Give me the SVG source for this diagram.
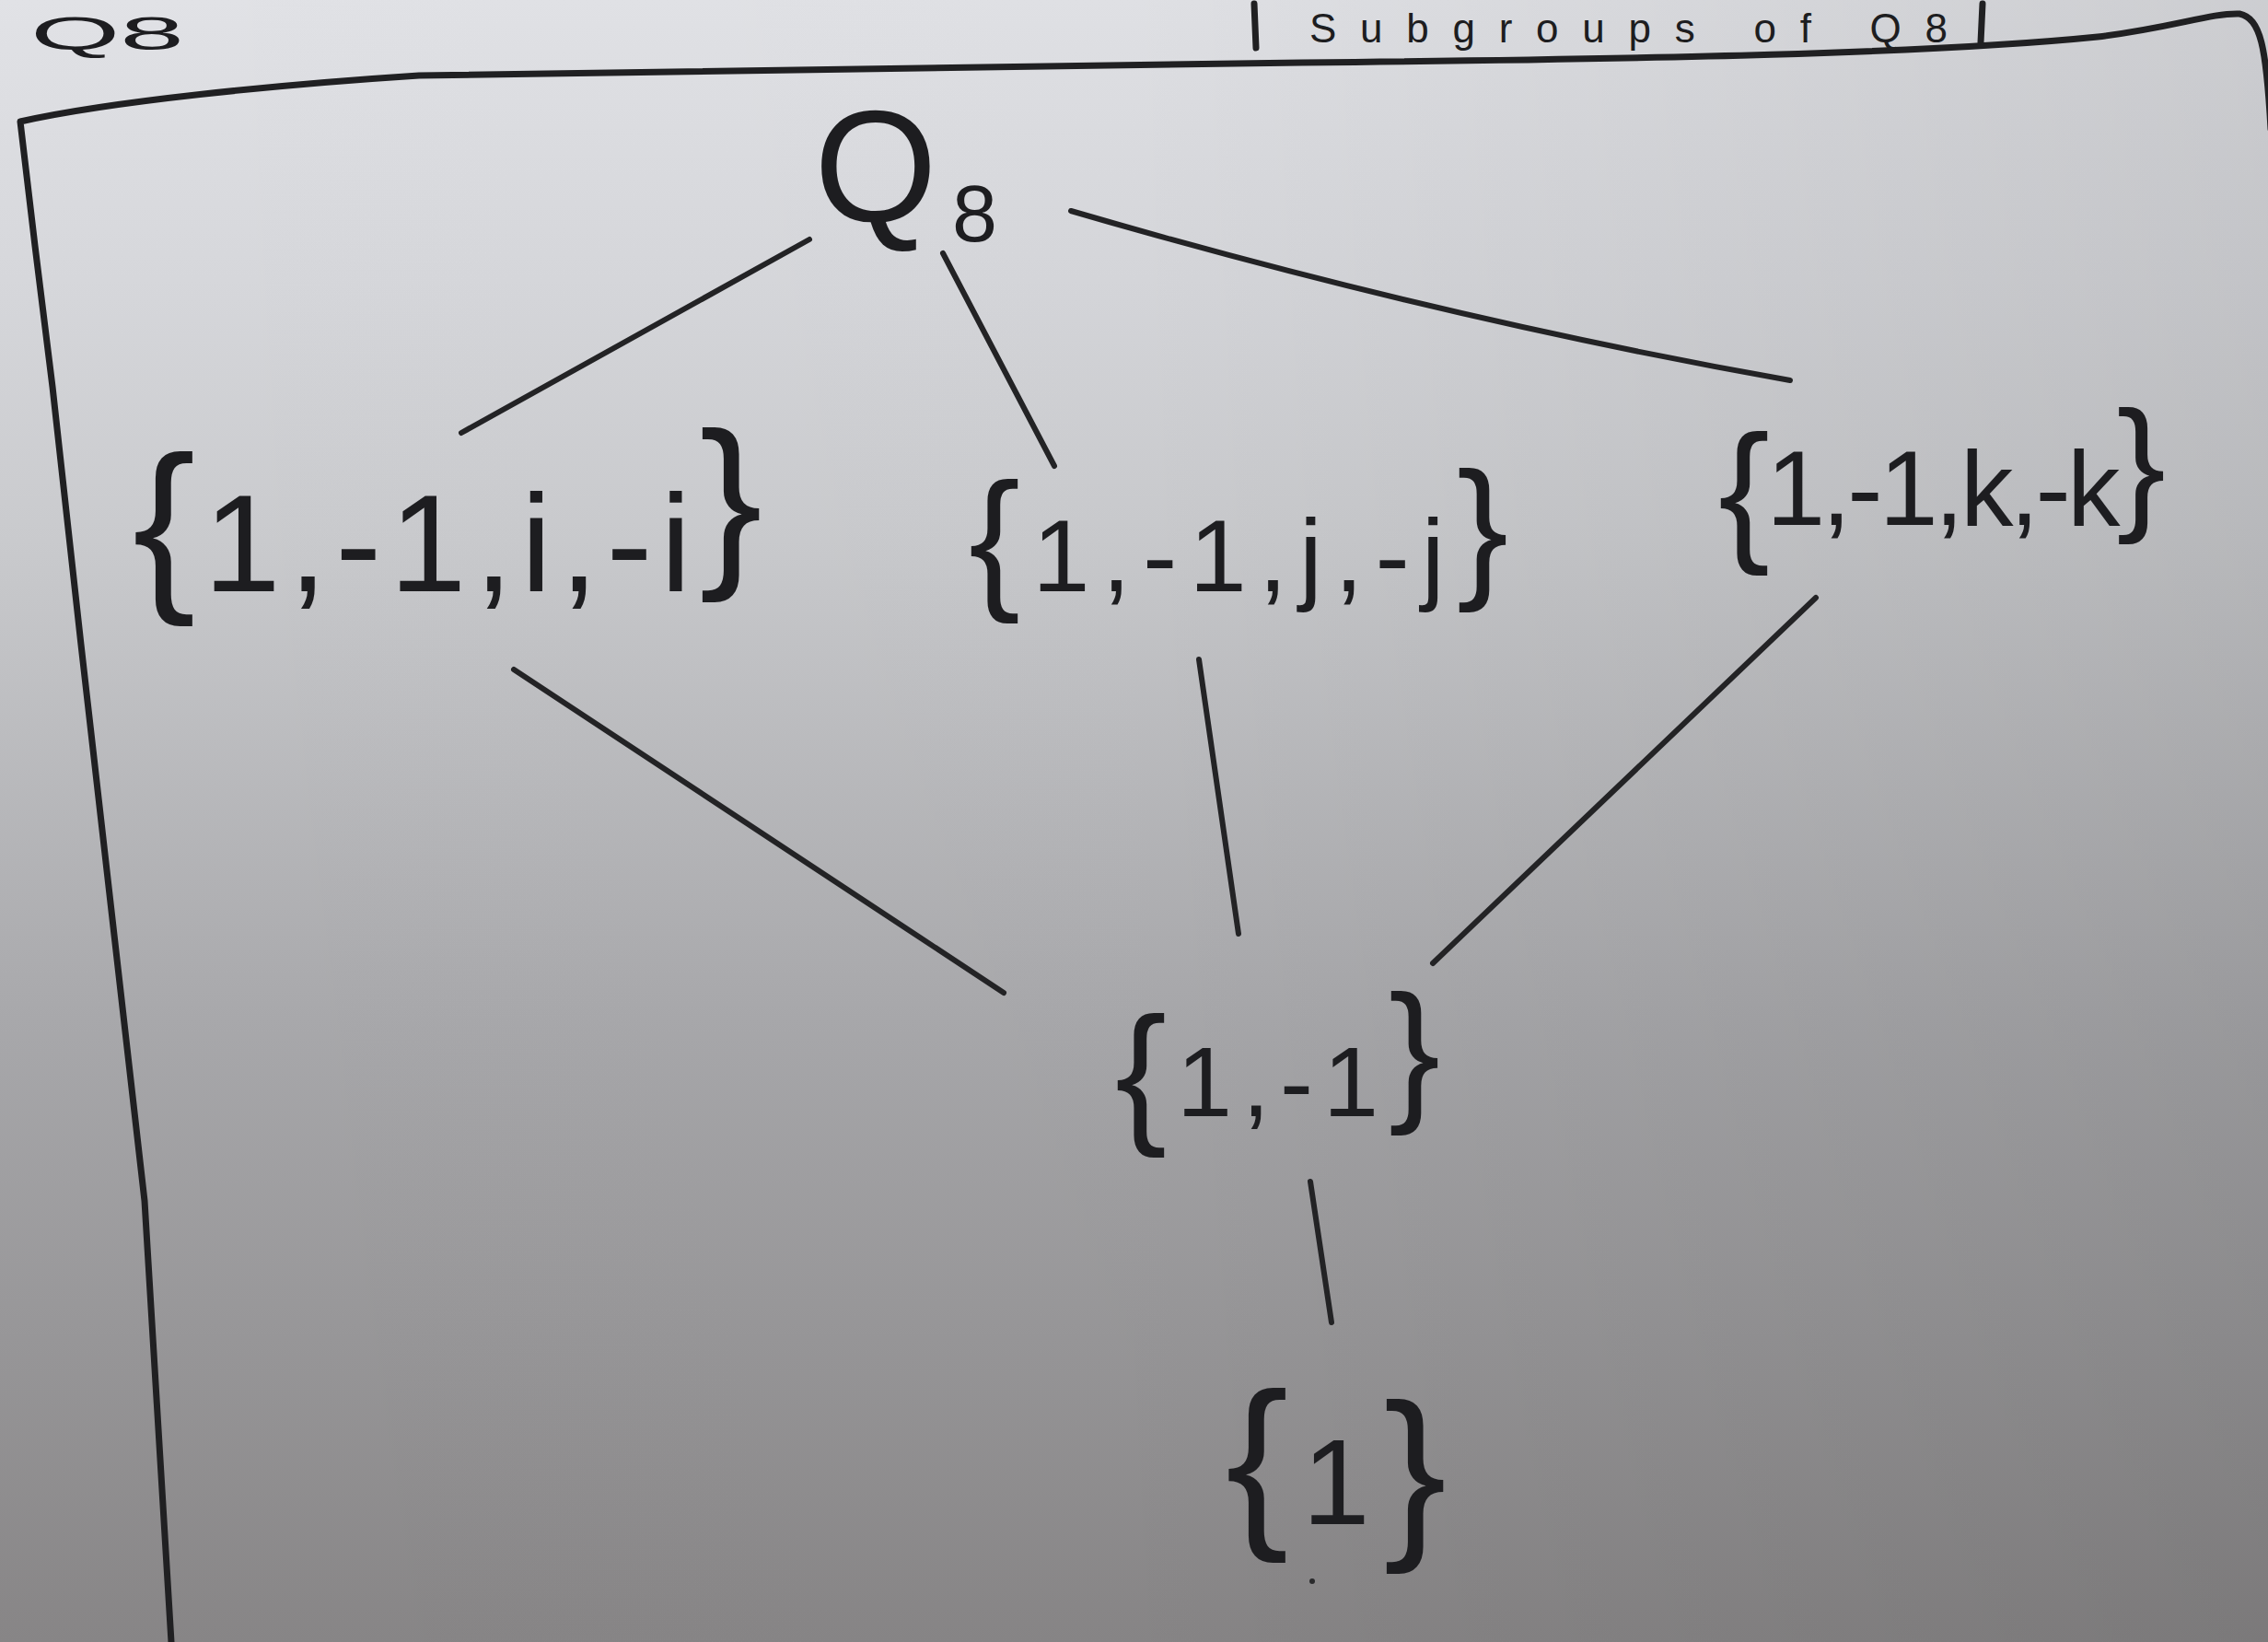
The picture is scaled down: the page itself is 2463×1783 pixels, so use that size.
<svg xmlns="http://www.w3.org/2000/svg" width="2463" height="1783" viewBox="0 0 2463 1783">
  <defs>
    <linearGradient id="bgV" x1="0" y1="0" x2="0" y2="1">
      <stop offset="0" stop-color="#e1e2e6"/>
      <stop offset="0.17" stop-color="#d6d7db"/>
      <stop offset="0.33" stop-color="#c9cacd"/>
      <stop offset="0.62" stop-color="#a8a8ab"/>
      <stop offset="1" stop-color="#878586"/>
    </linearGradient>
    <linearGradient id="bgH" x1="0" y1="0" x2="1" y2="0">
      <stop offset="0" stop-color="#000" stop-opacity="0"/>
      <stop offset="0.5" stop-color="#000" stop-opacity="0.01"/>
      <stop offset="1" stop-color="#000" stop-opacity="0.09"/>
    </linearGradient>
    <style>
      .ink { fill: #1d1d20; font-family: "Liberation Sans", Arial, sans-serif; }
      .edge { stroke: #232325; stroke-width: 6; stroke-linecap: round; fill: none; }
      .frame { stroke: #202022; stroke-width: 7; stroke-linecap: round; stroke-linejoin: round; fill: none; }
    </style>
  </defs>

  <rect x="0" y="0" width="2463" height="1783" fill="url(#bgV)"/>
  <rect x="0" y="0" width="2463" height="1783" fill="url(#bgH)"/>

  <!-- heading at the top edge -->
  <g id="heading">
    <text class="ink" x="33" y="54" font-size="50" textLength="167" lengthAdjust="spacingAndGlyphs">Q8</text>
    <line class="frame" x1="1362" y1="4" x2="1364" y2="52"/>
    <text class="ink" x="1422" y="46" font-size="44" textLength="693" lengthAdjust="spacing">Subgroups of Q8</text>
    <line class="frame" x1="2153" y1="4" x2="2151" y2="46"/>
  </g>

  <!-- hand-drawn frame -->
  <g id="frame">
    <path class="frame" d="M 186,1783 L 157,1304 L 88,700 L 57,420 L 38,267 L 22,132 C 120,110 300,92 455,82 C 700,76 1000,73 1414,68 C 1800,64 2100,58 2278,40 C 2360,30 2400,14 2432,15 C 2455,20 2461,50 2466,140"/>
  </g>

  <!-- connectors -->
  <g id="connectors">
    <line class="edge" x1="879" y1="260" x2="501" y2="470"/>
    <line class="edge" x1="1024" y1="275" x2="1145" y2="506"/>
    <path class="edge" d="M 1163,229 Q 1560,345 1944,413"/>
    <line class="edge" x1="558" y1="727" x2="1090" y2="1078"/>
    <line class="edge" x1="1302" y1="716" x2="1345" y2="1014"/>
    <line class="edge" x1="1972" y1="649" x2="1556" y2="1046"/>
    <line class="edge" x1="1423" y1="1283" x2="1446" y2="1436"/>
  </g>

  <!-- nodes -->
  <g id="node-Q8">
    <text class="ink" x="884" y="240" font-size="172">Q<tspan x="1034" y="262" font-size="88">8</tspan></text>
  </g>

  <g id="node-i">
    <text class="ink" x="144" y="642" font-size="150" textLength="684" lengthAdjust="spacing"><tspan font-size="205" dy="-4">{</tspan><tspan dy="4">1,-1,i,-i</tspan><tspan font-size="205" dy="-30">}</tspan></text>
  </g>

  <g id="node-j">
    <text class="ink" x="1052" y="642" font-size="112" textLength="586" lengthAdjust="spacing"><tspan font-size="168">{</tspan>1,-1,j,-j<tspan font-size="168" dy="-12">}</tspan></text>
  </g>

  <g id="node-k">
    <text class="ink" x="1866" y="570" font-size="115" textLength="486" lengthAdjust="spacing"><tspan font-size="168" dy="20">{</tspan><tspan dy="-20">1,-1,k,-k</tspan><tspan font-size="160" dy="-12">}</tspan></text>
  </g>

  <g id="node-pm1">
    <text class="ink" x="1211" y="1212" font-size="108" textLength="353" lengthAdjust="spacing"><tspan font-size="168" dy="10">{</tspan><tspan dy="-10">1,-1</tspan><tspan font-size="168" dy="-14">}</tspan></text>
  </g>

  <g id="node-1">
    <text class="ink" x="1331" y="1655" font-size="132" textLength="240" lengthAdjust="spacing"><tspan font-size="205">{</tspan>1<tspan font-size="205" dy="12">}</tspan></text>
    <circle cx="1425" cy="1717" r="3" fill="#2a2a2c"/>
  </g>
</svg>
